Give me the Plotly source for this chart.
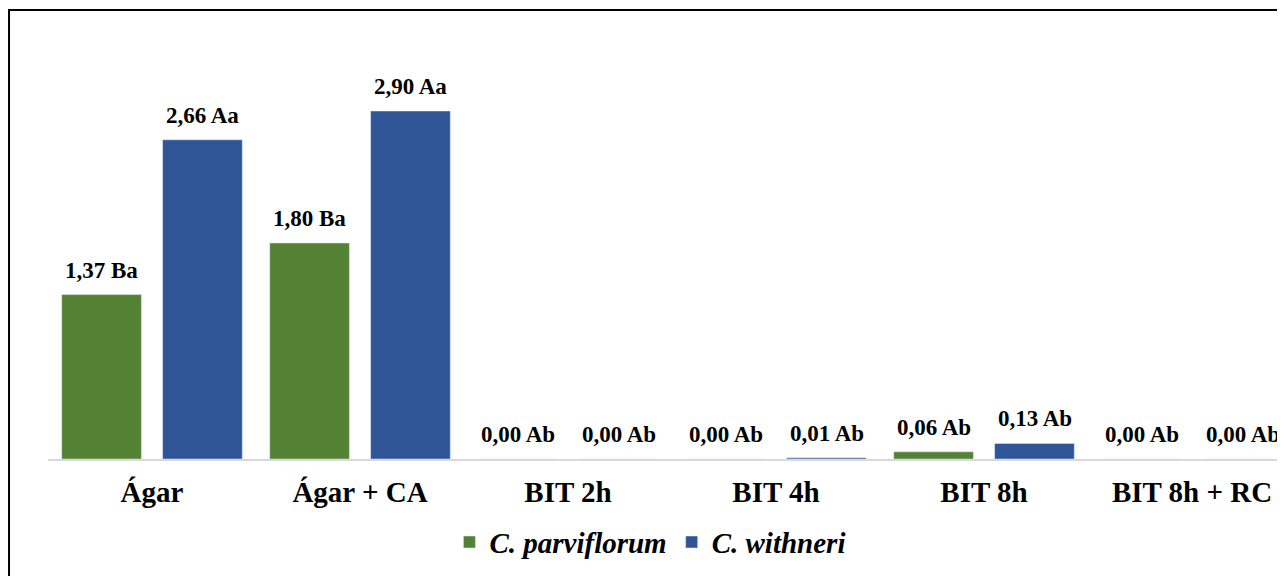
import plotly.graph_objects as go

categories = ["Ágar", "Ágar + CA", "BIT 2h", "BIT 4h", "BIT 8h", "BIT 8h + RC"]
parviflorum = [1.37, 1.80, 0.00, 0.00, 0.06, 0.00]
withneri = [2.66, 2.90, 0.00, 0.01, 0.13, 0.00]
parviflorum_labels = ["1,37 Ba", "1,80 Ba", "0,00 Ab", "0,00 Ab", "0,06 Ab", "0,00 Ab"]
withneri_labels = ["2,66 Aa", "2,90 Aa", "0,00 Ab", "0,01 Ab", "0,13 Ab", "0,00 Ab"]

FONT = "Liberation Serif"

fig = go.Figure()
fig.add_trace(go.Bar(x=categories, y=parviflorum, name="<i>C. parviflorum</i>",
                     marker=dict(color="#548235")))
fig.add_trace(go.Bar(x=categories, y=withneri, name="<i>C. withneri</i>",
                     marker=dict(color="#2F5597")))

# value labels above each bar (offset to the left/right bar of the group)
for vals, labels, shift in [(parviflorum, parviflorum_labels, -50.5), (withneri, withneri_labels, 50.5)]:
    for cat, v, lab in zip(categories, vals, labels):
        fig.add_annotation(x=cat, y=v, text=lab, showarrow=False, xshift=shift,
                           yanchor="bottom", yshift=10,
                           font=dict(family=FONT, size=23, color="black", weight="bold"))

fig.update_layout(
    width=1277, height=568,
    barmode="group", bargap=0.03, bargroupgap=0.21,
    plot_bgcolor="white", paper_bgcolor="white",
    font=dict(family=FONT, color="black"),
    margin=dict(l=40, r=0, t=55, b=117),
    showlegend=True,
    legend=dict(orientation="h", x=0.487, xanchor="center", y=-0.21, yanchor="middle",
                font=dict(family=FONT, size=29, color="black", weight="bold"),
                itemwidth=30, traceorder="normal"),
    shapes=[dict(type="rect", xref="paper", yref="paper",
                 x0=-0.0315, x1=1.2, y0=-0.6, y1=1.134,
                 line=dict(color="black", width=2))],
)
fig.update_xaxes(range=[-0.5, 5.447], showline=True, linecolor="#D9D9D9", linewidth=2,
                 ticks="", ticklabelstandoff=6,
                 tickfont=dict(family=FONT, size=29, color="black", weight="bold"),
                 showgrid=False)
fig.update_yaxes(range=[0, 3.3], visible=False, showgrid=False)

fig.write_html("out.html")
